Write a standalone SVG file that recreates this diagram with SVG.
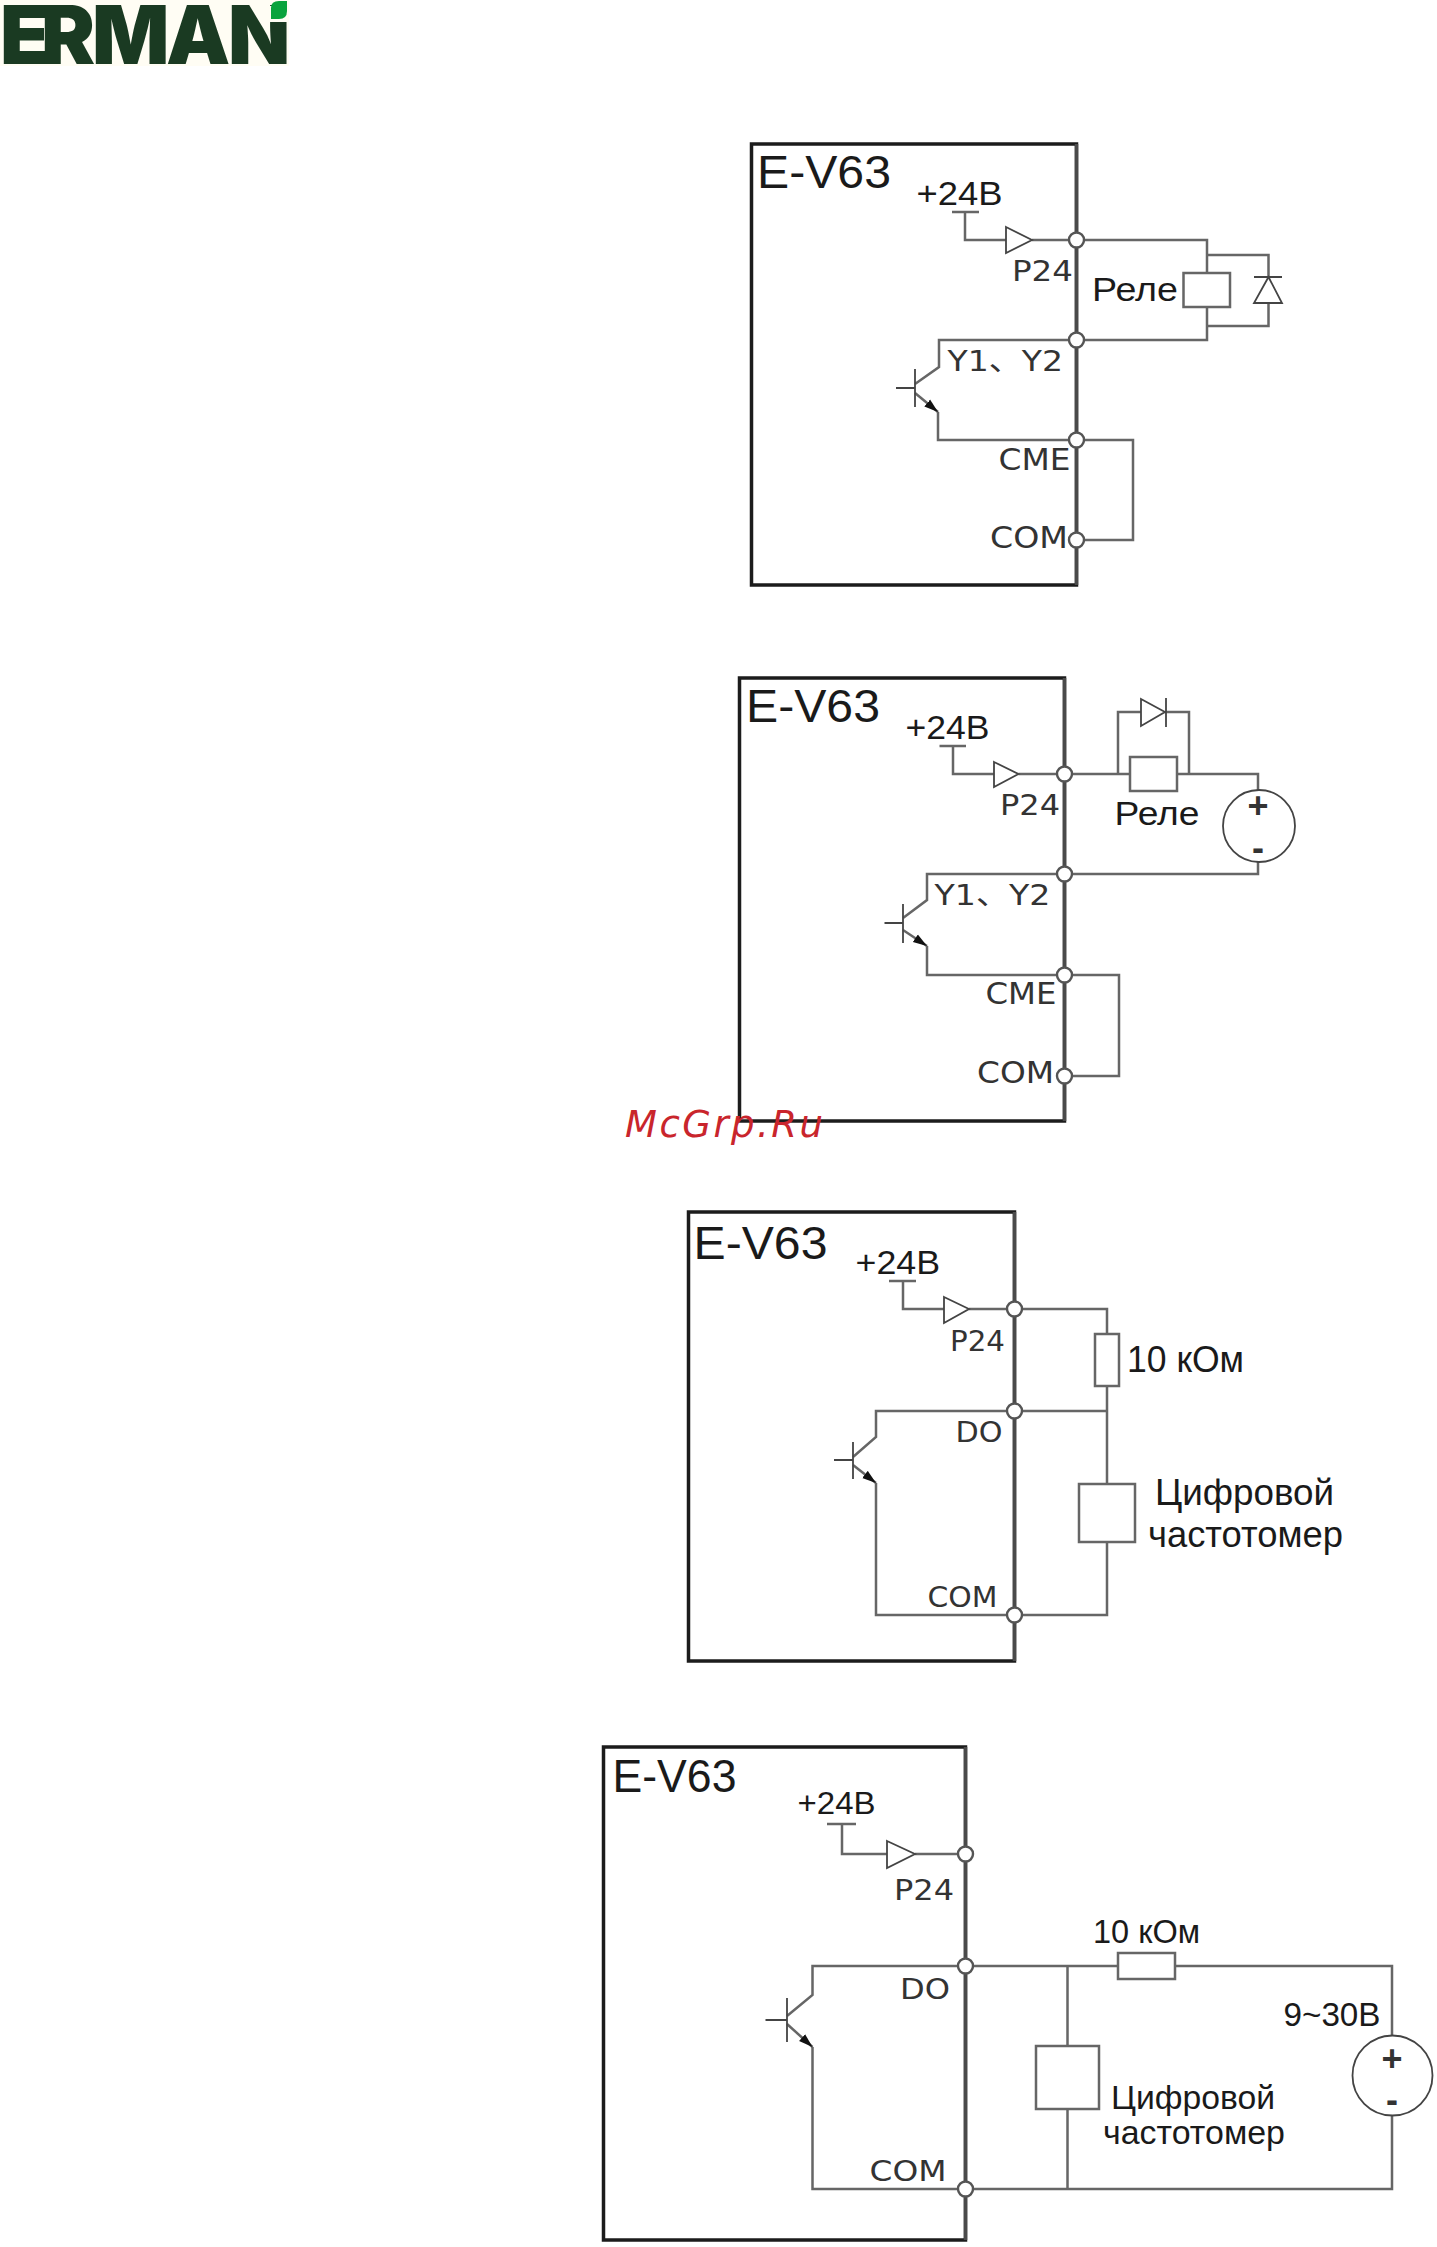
<svg xmlns="http://www.w3.org/2000/svg" width="1437" height="2247" viewBox="0 0 1437 2247">
<defs>
<marker id="em" markerUnits="userSpaceOnUse" markerWidth="16" markerHeight="12" refX="14" refY="5" orient="auto"><path d="M0 0.500 L14 5 L0 9.500 Z" fill="#111"/></marker>
</defs>
<style>
.b{fill:#fff;stroke:#1c1c1c;stroke-width:3.5}
.r{fill:none;stroke:#4a4a4a;stroke-width:3.5}
.w{fill:none;stroke:#666;stroke-width:2.5}
.p{fill:#fff;stroke:#666;stroke-width:2.5}
.t{stroke:#444;stroke-width:1.8;fill:none}
.c{fill:#fff;stroke:#555;stroke-width:2.4}
.s{font-family:"Liberation Sans",Arial,sans-serif;fill:#1a1a1a}
.d{font-family:"DejaVu Sans","Noto Sans CJK SC",sans-serif;fill:#333}
.m{font-family:"Liberation Sans",Arial,sans-serif;fill:#333;font-weight:bold;font-size:36px;text-anchor:middle}
</style>
<rect width="1437" height="2247" fill="#fff"/>
<g id="logo">
<rect x="0" y="0" width="289" height="66" fill="#fffdf4"/>
<text x="0 41 92 166 228" y="64" font-family="Inter,'Liberation Sans',sans-serif" font-weight="900" font-size="81" fill="#1a3a22">ERMAN</text>
<path d="M267 22V6H289V22Z" fill="#fffdf4"/>
<path d="M271 19V8Q271 1 279 1H287V11Q287 19 279 19Z" fill="#0aa33c"/>
</g>

<g id="diagram1">
<g id="d1-box"><rect class="b" x="751.500" y="144" width="325" height="441"/><path class="r" d="M1076.500 144V585"/>
<text class="s" x="757" y="188" font-size="46" textLength="134" lengthAdjust="spacingAndGlyphs">E-V63</text></g>
<g id="d1-connectors">
<path class="w" d="M952 212H979M965 212V240H1006M1032 240H1207V340H939V367L915 384"/>
<path class="w" d="M1207 255H1268.500V277M1268.500 303V326H1207"/>
<path class="w" marker-end="url(#em)" d="M915 393L938 412"/>
<path class="w" d="M938 412V440H1133V540H1076"/>
</g>
<g id="d1-source"><path class="t" d="M1006 227L1032 240L1006 253Z"/><text class="s" x="916.500" y="205" font-size="33" textLength="86" lengthAdjust="spacingAndGlyphs">+24В</text><text class="d" x="1012" y="281" font-size="29" textLength="61" lengthAdjust="spacingAndGlyphs">P24</text></g>
<g id="d1-relay"><rect class="p" x="1183.500" y="273" width="46.500" height="34"/><text class="s" x="1092" y="301" font-size="34" textLength="86" lengthAdjust="spacingAndGlyphs">Реле</text></g>
<g id="d1-diode"><path class="t" d="M1254 277H1282M1268.500 277L1254 303H1282Z"/></g>
<g id="d1-transistor"><path class="t" d="M896 388H915M915 369V407"/><text class="d" x="947.500" y="371" font-size="29" textLength="115.500" lengthAdjust="spacingAndGlyphs">Y1、Y2</text></g>
<g id="d1-terminals"><circle class="c" cx="1076.500" cy="240" r="7.500"/><circle class="c" cx="1076.500" cy="340" r="7.500"/><circle class="c" cx="1076.500" cy="440" r="7.500"/><circle class="c" cx="1076.500" cy="540" r="7.500"/>
<text class="d" x="998.500" y="470" font-size="30" textLength="72" lengthAdjust="spacingAndGlyphs">CME</text><text class="d" x="990" y="548" font-size="31" textLength="78" lengthAdjust="spacingAndGlyphs">COM</text></g>
</g>

<g id="diagram2">
<g id="d2-box"><rect class="b" x="739.500" y="678" width="325" height="443"/><path class="r" d="M1064.500 678V1121"/>
<text class="s" x="746" y="722" font-size="46" textLength="134" lengthAdjust="spacingAndGlyphs">E-V63</text></g>
<g id="d2-connectors">
<path class="w" d="M939.500 746H966M953 746V774H994M1018.500 774H1130M1177 774H1258V790M1258 862V874H927V900L903 918"/>
<path class="w" d="M1118 774V712H1141M1166 712H1189V774"/>
<path class="w" marker-end="url(#em)" d="M903 930L927 946"/>
<path class="w" d="M927 946V975H1119V1076H1064"/>
</g>
<g id="d2-source"><path class="t" d="M994 762L1018.500 774L994 787Z"/><text class="s" x="905.500" y="739" font-size="33" textLength="84" lengthAdjust="spacingAndGlyphs">+24В</text><text class="d" x="1000" y="815" font-size="29" textLength="60" lengthAdjust="spacingAndGlyphs">P24</text></g>
<g id="d2-relay"><rect class="p" x="1130" y="757" width="47" height="34"/><text class="s" x="1114.500" y="825" font-size="34" textLength="85" lengthAdjust="spacingAndGlyphs">Реле</text></g>
<g id="d2-diode"><path class="t" d="M1141 699L1165 712L1141 726ZM1166 698V727"/></g>
<g id="d2-supply"><circle class="t" cx="1259" cy="826" r="36"/><text class="m" x="1258" y="818">+</text><text class="m" x="1258" y="860">-</text></g>
<g id="d2-transistor"><path class="t" d="M884.500 923H903M903 904V943"/><text class="d" x="934.500" y="905" font-size="29" textLength="116" lengthAdjust="spacingAndGlyphs">Y1、Y2</text></g>
<g id="d2-terminals"><circle class="c" cx="1064.500" cy="774" r="7.500"/><circle class="c" cx="1064.500" cy="874" r="7.500"/><circle class="c" cx="1064.500" cy="975" r="7.500"/><circle class="c" cx="1064.500" cy="1076" r="7.500"/>
<text class="d" x="985.500" y="1004" font-size="30" textLength="71" lengthAdjust="spacingAndGlyphs">CME</text><text class="d" x="977" y="1083" font-size="31" textLength="77" lengthAdjust="spacingAndGlyphs">COM</text></g>
</g>

<g id="diagram3">
<g id="d3-box"><rect class="b" x="688.500" y="1212" width="326" height="449"/><path class="r" d="M1014.500 1212V1661"/>
<text class="s" x="693.500" y="1259" font-size="46" textLength="134" lengthAdjust="spacingAndGlyphs">E-V63</text></g>
<g id="d3-connectors">
<path class="w" d="M889 1281H916M903 1281V1309H944M969 1309H1107V1334M1107 1386V1484M1107 1542V1615H876V1483"/>
<path class="w" d="M1107 1411H876V1437L853 1457"/>
<path class="w" marker-end="url(#em)" d="M853 1465L876 1483"/>
</g>
<g id="d3-source"><path class="t" d="M944 1297L969 1309L944 1323Z"/><text class="s" x="855.500" y="1274" font-size="34" textLength="84.500" lengthAdjust="spacingAndGlyphs">+24В</text><text class="d" x="950" y="1351" font-size="28" textLength="55" lengthAdjust="spacingAndGlyphs">P24</text></g>
<g id="d3-resistor"><rect class="p" x="1095" y="1334" width="24" height="52"/><text class="s" x="1127" y="1372" font-size="36" textLength="117" lengthAdjust="spacingAndGlyphs">10 кОм</text></g>
<g id="d3-meter"><rect class="p" x="1079" y="1484" width="56" height="58"/><text class="s" x="1155" y="1505" font-size="37" textLength="179" lengthAdjust="spacingAndGlyphs">Цифровой</text><text class="s" x="1148" y="1547" font-size="37" textLength="195" lengthAdjust="spacingAndGlyphs">частотомер</text></g>
<g id="d3-transistor"><path class="t" d="M834 1460H853M853 1442V1479"/></g>
<g id="d3-terminals"><circle class="c" cx="1014.500" cy="1309" r="7.500"/><circle class="c" cx="1014.500" cy="1411" r="7.500"/><circle class="c" cx="1014.500" cy="1615" r="7.500"/>
<text class="d" x="955.500" y="1442" font-size="28" textLength="47" lengthAdjust="spacingAndGlyphs">DO</text><text class="d" x="927.500" y="1607" font-size="28" textLength="70" lengthAdjust="spacingAndGlyphs">COM</text></g>
</g>

<g id="diagram4">
<g id="d4-box"><rect class="b" x="603.500" y="1747" width="362" height="493"/><path class="r" d="M965.500 1747V2240"/>
<text class="s" x="612.500" y="1792" font-size="46" textLength="124" lengthAdjust="spacingAndGlyphs">E-V63</text></g>
<g id="d4-connectors">
<path class="w" d="M827 1824H856M842 1824V1854H887M915 1854H965"/>
<path class="w" d="M812.500 2047V2189H1392V2116M1392 2035V1966H1175M1118 1966H812.500V1995L787 2016"/>
<path class="w" marker-end="url(#em)" d="M787 2024L812.500 2047"/>
<path class="w" d="M1067.500 1966V2046M1067.500 2109V2189"/>
</g>
<g id="d4-source"><path class="t" d="M887 1841L915 1854L887 1868Z"/><text class="s" x="797.500" y="1814" font-size="32" textLength="78" lengthAdjust="spacingAndGlyphs">+24В</text><text class="d" x="894" y="1900" font-size="28" textLength="60" lengthAdjust="spacingAndGlyphs">P24</text></g>
<g id="d4-resistor"><rect class="p" x="1118" y="1953" width="57" height="26"/><text class="s" x="1093" y="1943" font-size="33" textLength="107" lengthAdjust="spacingAndGlyphs">10 кОм</text></g>
<g id="d4-meter"><rect class="p" x="1036" y="2046" width="63" height="63"/><text class="s" x="1111" y="2109" font-size="34" textLength="164" lengthAdjust="spacingAndGlyphs">Цифровой</text><text class="s" x="1103" y="2144" font-size="34" textLength="182" lengthAdjust="spacingAndGlyphs">частотомер</text></g>
<g id="d4-supply"><circle class="t" cx="1392.500" cy="2075.500" r="40"/><text class="s" x="1283.500" y="2026" font-size="33" textLength="97" lengthAdjust="spacingAndGlyphs">9~30В</text><text class="m" x="1392" y="2071">+</text><text class="m" x="1392" y="2112">-</text></g>
<g id="d4-transistor"><path class="t" d="M765.500 2020H787M787 1998V2042"/></g>
<g id="d4-terminals"><circle class="c" cx="965.500" cy="1854" r="7.500"/><circle class="c" cx="965.500" cy="1966" r="7.500"/><circle class="c" cx="965.500" cy="2189" r="7.500"/>
<text class="d" x="900" y="1999" font-size="28" textLength="50" lengthAdjust="spacingAndGlyphs">DO</text><text class="d" x="869.500" y="2181" font-size="28" textLength="77" lengthAdjust="spacingAndGlyphs">COM</text></g>
</g>

<text id="watermark" x="625" y="1137" font-family="'DejaVu Sans',sans-serif" font-style="italic" font-size="37" fill="#c9252c" textLength="198" lengthAdjust="spacing">McGrp.Ru</text>
</svg>
